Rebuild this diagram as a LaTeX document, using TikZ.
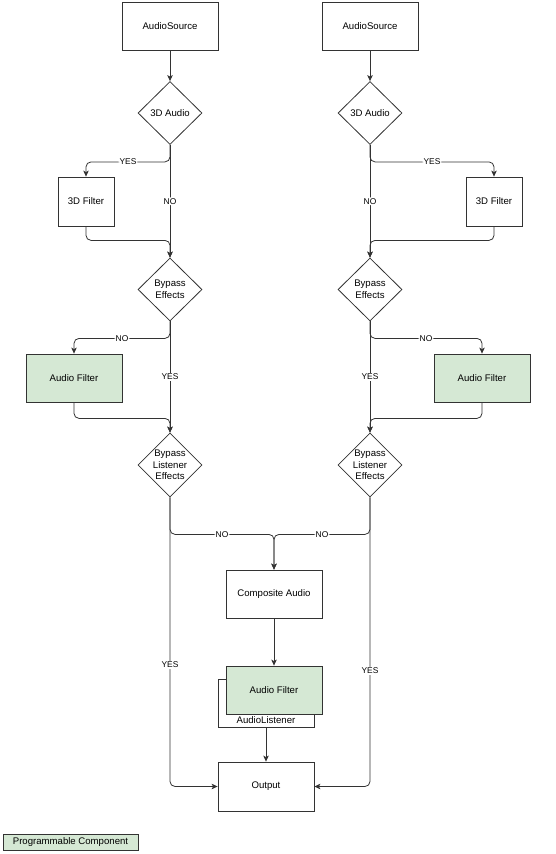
\documentclass[tikz,border=0pt]{standalone}
\usepackage{fontspec}
\setmainfont{Liberation Sans}
\usetikzlibrary{shapes.geometric,arrows.meta}
\definecolor{pgreen}{HTML}{D5E8D4}
\definecolor{lnc}{HTML}{333333}
\begin{document}
\begin{tikzpicture}[x=1pt,y={(0pt,-1pt)},
  every node/.style={font=\fontsize{9.6}{11.7}\selectfont},
  box/.style={draw=lnc,line width=0.8pt,rectangle,minimum width=96pt,minimum height=48pt,inner sep=0pt,fill=white},
  sbox/.style={box,minimum width=56pt,minimum height=49pt},
  gbox/.style={box,fill=pgreen},
  dia/.style={draw=lnc,line width=0.8pt,diamond,minimum width=64pt,minimum height=63pt,inner sep=0pt},
  dlab/.style={align=center,inner sep=0pt},
  lbl/.style={fill=white,inner sep=1pt,font=\fontsize{8.4}{10}\selectfont},
  conn/.style={draw=lnc,line width=0.8pt,rounded corners=5pt},
  arr/.style={conn,-{Stealth[length=6pt,width=5.5pt,inset=1.5pt]}}
]
\useasboundingbox (0,0) rectangle (556,854);

% sources
\node[box] (srcL) at (170,26) {AudioSource};
\node[box] (srcR) at (370,26) {AudioSource};
% 3D audio decisions
\node[dia,label={[dlab]center:3D Audio}] (d3L) at (170,113) {};
\node[dia,label={[dlab]center:3D Audio}] (d3R) at (370,113) {};
% 3D filters
\node[sbox] (f3L) at (86,201.5) {3D Filter};
\node[sbox] (f3R) at (494,201.5) {3D Filter};
% bypass effects
\node[dia,label={[dlab]center:Bypass\\Effects}] (beL) at (170,289.5) {};
\node[dia,label={[dlab]center:Bypass\\Effects}] (beR) at (370,289.5) {};
% audio filters
\node[gbox] (afL) at (74,378) {Audio Filter};
\node[gbox] (afR) at (482,378) {Audio Filter};
% bypass listener effects
\node[dia,minimum height=64pt,label={[dlab]center:Bypass\\Listener\\Effects}] (blL) at (170,465) {};
\node[dia,minimum height=64pt,label={[dlab]center:Bypass\\Listener\\Effects}] (blR) at (370,465) {};
% composite
\node[box] (comp) at (274,594) {Composite Audio};
% audio listener group
\node[box] (alis) at (266,703) {};
\node[inner sep=0pt,anchor=base] (alisT) at (266,723) {AudioListener};
\node[gbox] (afC) at (274,690) {Audio Filter};
% output
\node[box,minimum height=49pt] (out) at (266,786.5) {Output};
% legend
\node[gbox,minimum width=135pt,minimum height=16pt] (leg) at (70.5,842) {Programmable Component};

% connectors left
\draw[arr] (srcL.south) -- (d3L.north);
\draw[arr] (d3L.south) -- node[lbl]{NO} (beL.north);
\draw[arr] (d3L.south) -- ++(0,17) -| node[lbl,pos=0.25]{YES} (f3L.north);
\draw[arr] (f3L.south) -- ++(0,14) -| (beL.north);
\draw[arr] (beL.south) -- node[lbl]{YES} (blL.north);
\draw[arr] (beL.south) -- ++(0,17) -| node[lbl,pos=0.25]{NO} (afL.north);
\draw[arr] (afL.south) -- ++(0,16) -| (blL.north);
\draw[arr] (blL.south) -- ++(0,37) -| node[lbl,pos=0.25]{NO} (comp.north);
\draw[arr] (blL.south) |- node[lbl,pos=0.29]{YES} (out.west);

% connectors right
\draw[arr] (srcR.south) -- (d3R.north);
\draw[arr] (d3R.south) -- node[lbl]{NO} (beR.north);
\draw[arr] (d3R.south) -- ++(0,17) -| node[lbl,pos=0.25]{YES} (f3R.north);
\draw[arr] (f3R.south) -- ++(0,14) -| (beR.north);
\draw[arr] (beR.south) -- node[lbl]{YES} (blR.north);
\draw[arr] (beR.south) -- ++(0,17) -| node[lbl,pos=0.25]{NO} (afR.north);
\draw[arr] (afR.south) -- ++(0,16) -| (blR.north);
\draw[arr] (blR.south) -- ++(0,37) -| node[lbl,pos=0.25]{NO} (comp.north);
\draw[arr] (blR.south) |- node[lbl,pos=0.3]{YES} (out.east);

% center
\draw[arr] (comp.south) -- (afC.north);
\draw[arr] (alis.south) -- (out.north);
\end{tikzpicture}
\end{document}
